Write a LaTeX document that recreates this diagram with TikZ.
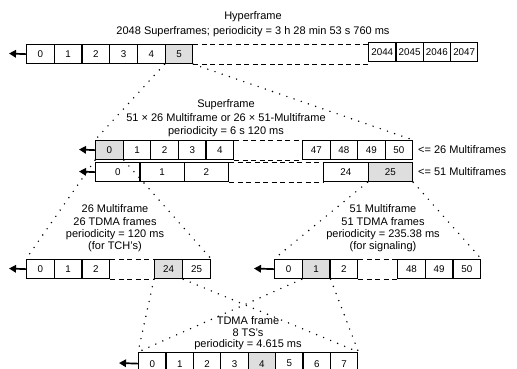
\documentclass[tikz,border=0pt]{standalone}
\usepackage{fontspec}
\setmainfont{Liberation Sans}
\usetikzlibrary{arrows.meta}
\begin{document}
\begin{tikzpicture}[x=1pt,y=-1pt,
  box/.style={draw, line width=1.25pt, inner sep=0pt, minimum height=19pt, anchor=north west, font=\fontsize{9.8}{11}\selectfont},
  hl/.style={fill=black!13},
  dotline/.style={line width=1.6pt, line cap=round, dash pattern=on 0pt off 7.6pt},
  dashline/.style={line width=1pt, dash pattern=on 5pt off 3.5pt},
  lead/.style={line width=1.7pt, -{Triangle[length=7pt,width=7.5pt]}},
  lbl/.style={align=center, inner sep=0pt}
]
\useasboundingbox (0,0) rectangle (517,368);
% ---------- Hyperframe row
\foreach \i in {0,...,4} \node[box, minimum width=27.7pt] (h\i) at ({26+27.7*\i},44) {\i};
\node[box, hl, minimum width=27.7pt] (h5) at (164.5,44) {5};
\foreach \i/\t in {0/2044,1/2045,2/2046,3/2047} \node[box, minimum width=27.3pt] (r\t) at ({368+27.3*\i},41.5) {\t};
\coordinate (ah) at (9,53.5);
\draw[lead] (h0.west) -- (ah);
\draw[dashline] (h5.north east) -- (h5.north east -| r2044.west);
\draw[dashline] (h5.south east) -- (h5.south east -| r2044.west);
% ---------- Superframe rows
\node[box, hl, minimum width=27.6pt] (s0) at (95,140) {0};
\foreach \i in {1,...,4} \node[box, minimum width=27.6pt] (s\i) at ({95+27.6*\i},140) {\i};
\foreach \i/\t in {0/47,1/48,2/49,3/50} \node[box, minimum width=27.5pt] (s\t) at ({302+27.5*\i},140) {\t};
\draw[dashline] (s4.north east) -- (s47.north west);
\draw[dashline] (s4.south east) -- (s47.south west);
\coordinate (as) at (79,149.5);
\draw[lead] (s0.west) -- (as);
\foreach \i in {0,1,2} \node[box, minimum width=44.3pt] (m\i) at ({95+44.3*\i},162) {\i};
\node[box, minimum width=44.5pt] (m24) at (323,162) {24};
\node[box, hl, minimum width=44.5pt] (m25) at (367.5,162) {25};
\draw[dashline] (m2.north east) -- (m24.north west);
\draw[dashline] (m2.south east) -- (m24.south west);
\coordinate (am) at (79,171.5);
\draw[lead] (m0.west) -- (am);
\node[lbl, anchor=west, font=\fontsize{11}{13}\selectfont] (l26) at (418,149.5) {<= 26 Multiframes};
\node[lbl, anchor=west, font=\fontsize{11}{13}\selectfont] (l51) at (418,171.5) {<= 51 Multiframes};
% ---------- 26 multiframe row
\foreach \i in {0,1,2} \node[box, minimum width=27.7pt] (a\i) at ({26+27.7*\i},259) {\i};
\node[box, hl, minimum width=28pt] (a24) at (154,259) {24};
\node[box, minimum width=28pt] (a25) at (182,259) {25};
\draw[dashline] (a2.north east) -- (a24.north west);
\draw[dashline] (a2.south east) -- (a24.south west);
\coordinate (aa) at (9,268.5);
\draw[lead] (a0.west) -- (aa);
% ---------- 51 multiframe row
\node[box, minimum width=27.7pt] (b0) at (274,259) {0};
\node[box, hl, minimum width=27.7pt] (b1) at (301.7,259) {1};
\node[box, minimum width=27.7pt] (b2) at (329.4,259) {2};
\foreach \i/\t in {0/48,1/49,2/50} \node[box, minimum width=27.7pt] (b\t) at ({397+27.7*\i},259) {\t};
\draw[dashline] (b2.north east) -- (b48.north west);
\draw[dashline] (b2.south east) -- (b48.south west);
\coordinate (ab) at (254,268.5);
\draw[lead] (b0.west) -- (ab);
% ---------- TDMA row
\foreach \i in {0,...,7} \node[box, minimum width=27.4pt, minimum height=22pt] (t\i) at ({138+27.4*\i},352) {\i};
\node[box, hl, minimum width=27.4pt, minimum height=22pt] at (t4.north west) {4};
\coordinate (at) at (119,363);
\draw[lead] (t0.west) -- (at);
% ---------- dotted expansions
\draw[dotline] (h5.south west) -- (s0.north west);
\draw[dotline] (h5.south east) -- (s50.north east);
\draw[dotline] (s0.south west) -- (a0.north west);
\draw[dotline] (s0.south east) -- (a25.north east);
\draw[dotline] (m25.south west) -- (b0.north west);
\draw[dotline] (m25.south east) -- (b50.north east);
\draw[dotline] (a24.south west) -- (t0.north west);
\draw[dotline] (a24.south east) -- (t7.north east);
\draw[dotline] (b1.south west) -- (t0.north west);
\draw[dotline] (b1.south east) -- (t7.north east);
% ---------- labels
\node[lbl, font=\fontsize{11}{15}\selectfont] (thyp) at (253,24.5) {Hyperframe\\2048 Superframes; periodicity = 3 h 28 min 53 s 760 ms};
\node[lbl, font=\fontsize{11}{13.5}\selectfont] (tsup) at (226,118.5) {Superframe\\51 × 26 Multiframe or 26 × 51-Multiframe\\periodicity = 6 s 120 ms};
\node[lbl, font=\fontsize{11}{12.3}\selectfont] (t26) at (115,228.5) {26 Multiframe\\26 TDMA frames\\periodicity = 120 ms\\(for TCH’s)};
\node[lbl, font=\fontsize{11}{12.3}\selectfont] (t51) at (383,228.5) {51 Multiframe\\51 TDMA frames\\periodicity = 235.38 ms\\(for signaling)};
\node[lbl, font=\fontsize{11}{11.6}\selectfont] (ttdma) at (248,333.5) {TDMA frame\\8 TS’s\\periodicity = 4.615 ms};
\end{tikzpicture}
\end{document}
